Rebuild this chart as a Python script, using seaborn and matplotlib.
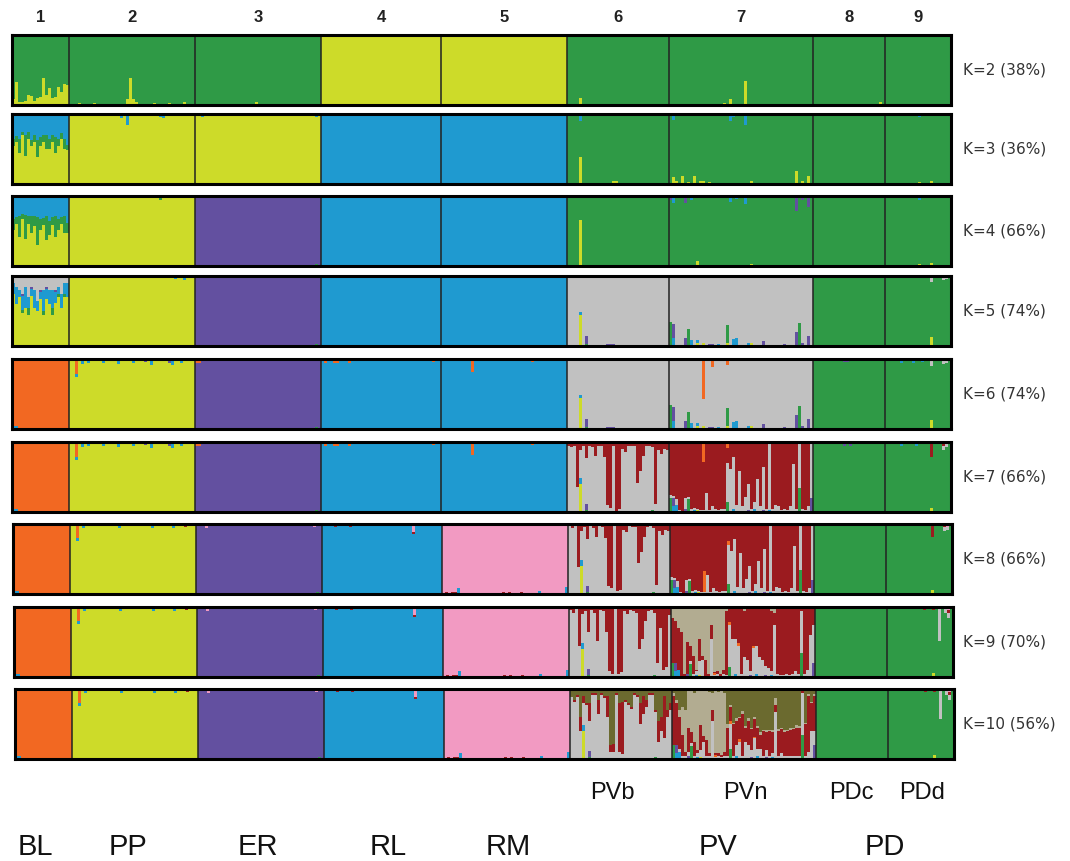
import numpy as np
import pandas as pd
import matplotlib
matplotlib.use("Agg")
import matplotlib.pyplot as plt
import seaborn as sns

# ---------------- data ----------------
POP_NUMBERS = ["1", "2", "3", "4", "5", "6", "7", "8", "9"]
POP_SIZES = [19, 42, 42, 40, 42, 34, 48, 24, 22]
K_VALUES = [2, 3, 4, 5, 6, 7, 8, 9, 10]
K_SUPPORT = [38, 36, 66, 74, 74, 66, 66, 70, 56]
SUB_LABELS = ["PVb", "PVn", "PDc", "PDd"]
GROUP_LABELS = ["BL", "PP", "ER", "RL", "RM", "PV", "PD"]

COLORS = {"green": "#2f9a46", "yellow": "#cddb29", "blue": "#1f9ad0",
          "purple": "#6350a0", "gray": "#c1c1c1", "orange": "#f26822",
          "red": "#9b1b1f", "pink": "#f29ac2", "khaki": "#b2ac91",
          "olive": "#6b6a2f"}

STACK_ORDER = {
    2: ["yellow", "green"],
    3: ["yellow", "green", "blue"],
    4: ["yellow", "green", "blue", "purple"],
    5: ["yellow", "green", "blue", "purple", "gray"],
    6: ["yellow", "green", "blue", "purple", "gray", "orange"],
    7: ["yellow", "green", "blue", "purple", "gray", "red", "orange"],
    8: ["yellow", "green", "blue", "purple", "gray", "orange", "red", "pink"],
    9: ["yellow", "green", "blue", "purple", "gray", "orange", "red", "pink", "khaki"],
    10: ["yellow", "green", "blue", "purple", "gray", "orange", "red", "pink", "khaki", "olive"],
}

DOMINANT = {
    2: ["green", "green", "green", "yellow", "yellow", "green", "green", "green", "green"],
    3: ["yellow", "yellow", "yellow", "blue", "blue", "green", "green", "green", "green"],
    4: ["yellow", "yellow", "purple", "blue", "blue", "green", "green", "green", "green"],
    5: ["yellow", "yellow", "purple", "blue", "blue", "gray", "gray", "green", "green"],
    6: ["orange", "yellow", "purple", "blue", "blue", "gray", "gray", "green", "green"],
    7: ["orange", "yellow", "purple", "blue", "blue", "gray", "red", "green", "green"],
    8: ["orange", "yellow", "purple", "blue", "pink", "gray", "red", "green", "green"],
    9: ["orange", "yellow", "purple", "blue", "pink", "gray", "red", "green", "green"],
    10: ["orange", "yellow", "purple", "blue", "pink", "gray", "olive", "green", "green"],
}

# thin membership line along the top of every bar (percent)
TRACE = {6: ("orange", 2), 7: ("orange", 2)}

# per-individual membership (percent) of admixed groups
BL_K2_YELLOW = [8, 33, 5, 4, 6, 14, 13, 6, 10, 12, 39, 15, 25, 10, 12, 26, 18, 30, 28]
BL_K3_GREEN = [10, 8, 20, 5, 30, 10, 8, 10, 25, 12, 10, 20, 15, 10, 22, 10, 8, 15, 8]
BL_K3_BLUE = [35, 32, 35, 25, 30, 25, 37, 30, 37, 33, 30, 30, 35, 30, 33, 35, 27, 35, 44]
BL_K4_GREEN = [15, 10, 30, 8, 35, 12, 25, 15, 40, 15, 10, 35, 20, 12, 30, 15, 10, 25, 15]
BL_K4_BLUE = [33, 28, 28, 25, 27, 25, 28, 28, 28, 33, 32, 28, 33, 30, 28, 33, 28, 28, 38]
BL_K5_GREEN = [0, 0, 0, 5, 0, 10, 0, 0, 0, 0, 5, 0, 0, 10, 0, 5, 0, 5, 0]
BL_K5_BLUE = [15, 25, 10, 20, 30, 15, 10, 25, 15, 10, 30, 15, 20, 25, 15, 10, 20, 15, 20]
BL_K5_GRAY = [10, 15, 20, 25, 15, 30, 15, 20, 35, 20, 20, 15, 20, 20, 20, 15, 25, 10, 10]

PVB_RED = [3, 5, 3, 62, 10, 4, 21, 3, 5, 18, 3, 4, 20, 88, 92, 3, 96, 94, 8, 12,
           3, 4, 4, 56, 40, 18, 4, 3, 5, 87, 10, 15, 8, 10]
PVB_RED_K9 = [4, 8, 3, 55, 10, 5, 35, 4, 8, 48, 4, 6, 35, 92, 95, 3, 95, 93, 6, 10,
              4, 5, 8, 60, 45, 20, 6, 4, 8, 80, 30, 90, 85, 12]
PVB_RED_K10 = [0, 3, 3, 20, 10, 3, 25, 3, 3, 20, 3, 3, 30, 10, 12, 3, 70, 75, 3, 3,
               3, 3, 3, 30, 25, 10, 3, 3, 3, 30, 20, 60, 10, 10]
PVB_OLIVE_K10 = [12, 15, 8, 40, 10, 20, 20, 5, 5, 15, 5, 10, 10, 80, 78, 5, 20, 18, 15, 20,
                 25, 5, 8, 20, 10, 15, 5, 5, 30, 45, 40, 10, 30, 20]

PVN_GRAY = [5, 3, 8, 3, 2, 15, 3, 5, 3, 2, 3, 3, 27, 3, 8, 5, 3, 4, 5, 55, 62, 74, 10, 59,
            8, 22, 37, 5, 10, 47, 8, 62, 5, 95, 5, 10, 8, 3, 5, 3, 8, 69, 5, 64, 4, 3, 8, 78]
PVN_GRAY_K9 = [0, 0, 0, 0, 0, 0, 5, 5, 5, 20, 25, 0, 0, 55, 3, 5, 0, 5, 3, 59, 55, 49, 45, 5,
               28, 25, 5, 42, 40, 28, 25, 13, 13, 5, 74, 5, 3, 3, 5, 3, 5, 8, 5, 60, 5, 10, 60, 55]
PVN_KHAKI_K9 = [15, 20, 30, 35, 95, 50, 55, 70, 90, 45, 70, 75, 95, 25, 93, 92, 95, 90, 5, 3,
                3, 3, 2, 3, 5, 3, 2, 3, 3, 2, 3, 2, 3, 5, 8, 3, 2, 3, 2, 2, 3, 3, 3, 2, 3, 3, 3, 2]
PVN_KHAKI_K10 = [5, 5, 10, 40, 60, 55, 60, 70, 85, 50, 65, 70, 88, 25, 90, 88, 92, 85, 5, 3,
                 2, 3, 2, 3, 2, 3, 2, 3, 2, 3, 2, 3, 2, 3, 10, 3, 2, 3, 2, 3, 2, 3, 2, 3, 2, 3, 2, 3]
PVN_RED_K10 = [70, 60, 45, 30, 5, 35, 15, 20, 5, 35, 8, 22, 3, 15, 3, 3, 3, 5, 40, 20,
               45, 35, 30, 60, 20, 35, 30, 25, 30, 20, 35, 25, 35, 30, 10, 35, 35, 33, 35, 36,
               38, 40, 40, 3, 45, 80, 40, 50]
PVN_GRAY_K10 = [0, 0, 5, 5, 5, 5, 5, 5, 5, 10, 25, 5, 5, 55, 3, 5, 3, 5, 5, 35,
                5, 15, 25, 5, 25, 20, 10, 30, 10, 15, 5, 10, 5, 5, 67, 5, 8, 5, 5, 5,
                5, 5, 5, 60, 5, 10, 40, 20]

K6UP = (6, 7, 8, 9, 10)
K8UP = (8, 9, 10)
K7UP = (7, 8, 9, 10)

# (K values, population index, cluster, values as full list or {individual: percent})
ADMIX = [
    # 1 BL
    ((2,), 0, "yellow", BL_K2_YELLOW),
    ((3,), 0, "green", BL_K3_GREEN), ((3,), 0, "blue", BL_K3_BLUE),
    ((4,), 0, "green", BL_K4_GREEN), ((4,), 0, "blue", BL_K4_BLUE),
    ((4,), 0, "purple", {1: 2, 5: 3, 8: 2, 12: 3, 16: 2}),
    ((5,), 0, "green", BL_K5_GREEN), ((5,), 0, "blue", BL_K5_BLUE),
    ((5,), 0, "purple", {3: 3, 6: 3, 9: 3, 11: 3, 14: 3}),
    ((5,), 0, "gray", BL_K5_GRAY),
    (K6UP, 0, "blue", {0: 4, 1: 3, 17: 2}), (K6UP, 0, "green", {1: 2, 2: 2}),
    # 2 PP
    ((2,), 1, "yellow", {3: 3, 8: 3, 19: 8, 20: 38, 21: 8, 22: 5, 28: 3, 33: 3, 38: 4}),
    ((3,), 1, "blue", {0: 3, 5: 3, 10: 2, 17: 5, 18: 3, 19: 15, 30: 4, 31: 6, 38: 3}),
    ((4,), 1, "blue", {1: 2, 3: 2, 6: 2, 30: 3, 36: 2, 41: 3}),
    ((4,), 1, "green", {30: 2, 40: 2}),
    ((5,), 1, "blue", {1: 3, 4: 2, 6: 2, 30: 3, 35: 4, 38: 5, 41: 3}),
    ((5,), 1, "purple", {31: 2, 36: 2}),
    (K6UP, 1, "orange", {2: 20}),
    (K6UP, 1, "blue", {2: 4, 4: 5, 6: 3, 11: 3, 16: 5, 21: 3, 27: 6, 34: 6, 37: 3}),
    ((6, 7), 1, "purple", {25: 2, 33: 3}),
    (K8UP, 1, "red", {15: 3, 24: 3, 38: 4}),
    # 3 ER
    ((2,), 2, "yellow", {20: 5, 21: 2, 30: 2, 34: 2}),
    ((3,), 2, "blue", {2: 4, 14: 2, 40: 4}),
    ((4, 5, 6, 7, 8, 9, 10), 2, "green", {3: 2, 40: 3}),
    ((4, 5, 6, 7, 8, 9, 10), 2, "blue", {4: 2, 39: 2}),
    (K6UP, 2, "orange", {0: 3, 1: 3}),
    (K8UP, 2, "pink", {3: 5, 39: 4}),
    # 4 RL
    ((2,), 3, "green", {3: 3, 7: 3, 20: 2}),
    ((3, 4, 5, 6, 7, 8, 9, 10), 3, "green", {13: 2, 14: 2, 15: 2}),
    ((6, 7), 3, "orange", {1: 3, 4: 4, 5: 3, 9: 4, 37: 2}),
    (K8UP, 3, "red", {1: 3, 4: 4, 5: 3, 9: 4, 30: 2, 37: 2}),
    (K8UP, 3, "pink", {30: 12, 6: 3}),
    # 5 RM
    ((2,), 4, "green", {5: 2}),
    ((6, 7), 4, "orange", {10: 16, 30: 2}),
    (K8UP, 4, "red", {1: 3, 3: 3, 4: 3, 20: 3, 22: 3, 26: 3, 30: 2, 34: 2}),
    (K8UP, 4, "blue", {5: 8, 32: 5, 41: 10}),
    # 6 PVb
    ((2,), 5, "yellow", {4: 10, 17: 2}),
    ((3,), 5, "yellow", {4: 38, 15: 4, 16: 5}),
    ((3,), 5, "blue", {4: 10, 0: 2}),
    ((4,), 5, "yellow", {4: 66, 15: 2}),
    ((4,), 5, "blue", {4: 3, 13: 2}),
    ((4,), 5, "purple", {0: 2, 14: 3, 15: 2}),
    ((5, 6), 5, "yellow", {4: 45}),
    ((5, 6), 5, "blue", {4: 3}),
    ((5, 6), 5, "purple", {6: 12, 9: 2, 13: 3, 14: 3, 15: 3, 20: 2, 22: 2, 25: 2, 26: 2, 27: 2}),
    ((5, 6), 5, "green", {6: 3, 24: 2}),
    (K7UP, 5, "yellow", {4: 40}),
    (K7UP, 5, "blue", {4: 8}),
    (K7UP, 5, "purple", {6: 8, 13: 2, 14: 2, 15: 2, 25: 2}),
    (K7UP, 5, "green", {6: 3, 28: 3}),
    ((7, 8), 5, "red", PVB_RED),
    ((9,), 5, "red", PVB_RED_K9),
    ((10,), 5, "red", PVB_RED_K10),
    ((10,), 5, "olive", PVB_OLIVE_K10),
    # 7 PVn
    ((2,), 6, "yellow", {7: 2, 18: 3, 20: 8, 25: 35, 27: 2, 31: 2, 35: 2}),
    ((3,), 6, "yellow", {1: 10, 2: 4, 4: 12, 6: 3, 8: 12, 10: 5, 11: 5, 13: 3, 15: 2,
                         19: 2, 27: 5, 39: 2, 42: 18, 44: 4, 46: 12}),
    ((3,), 6, "blue", {1: 8, 5: 3, 6: 3, 13: 2, 20: 10, 21: 4, 25: 15, 35: 2, 47: 2}),
    ((4,), 6, "yellow", {1: 2, 5: 2, 9: 7, 11: 2, 15: 2, 19: 2, 27: 3}),
    ((4,), 6, "blue", {1: 10, 7: 5, 20: 8, 22: 4, 25: 12}),
    ((4,), 6, "purple", {0: 6, 5: 10, 18: 2, 42: 22, 44: 6, 46: 16}),
    ((5, 6), 6, "green", {0: 35, 6: 25, 19: 25, 43: 33}),
    ((5, 6), 6, "purple", {1: 20, 5: 12, 13: 3, 14: 3, 17: 2, 31: 7, 36: 2, 38: 3,
                           40: 2, 42: 20, 44: 5, 46: 15}),
    ((5, 6), 6, "blue", {1: 12, 7: 8, 9: 3, 16: 3, 21: 10, 22: 12, 26: 5}),
    ((5, 6), 6, "yellow", {9: 5, 11: 4, 19: 5, 27: 5}),
    ((6,), 6, "orange", {11: 55, 14: 10, 19: 6}),
    ((7, 8), 6, "gray", PVN_GRAY),
    (K7UP, 6, "green", {0: 20, 6: 18, 19: 15, 43: 34}),
    (K7UP, 6, "purple", {1: 12, 5: 5, 26: 3, 31: 3, 47: 20}),
    (K7UP, 6, "blue", {1: 8, 2: 10, 8: 3, 21: 5, 28: 5, 33: 3}),
    (K7UP, 6, "yellow", {9: 3}),
    ((7,), 6, "orange", {11: 26, 19: 6}),
    ((8,), 6, "orange", {11: 30, 19: 6}),
    ((8,), 6, "pink", {7: 2, 18: 2, 20: 2, 31: 2}),
    ((9,), 6, "gray", PVN_GRAY_K9),
    ((9,), 6, "khaki", PVN_KHAKI_K9),
    ((9, 10), 6, "orange", {14: 3, 19: 4, 22: 3, 27: 2}),
    ((10,), 6, "gray", PVN_GRAY_K10),
    ((10,), 6, "khaki", PVN_KHAKI_K10),
    ((10,), 6, "red", PVN_RED_K10),
    # 8 PDc
    ((2,), 7, "yellow", {0: 2, 3: 2, 18: 2, 22: 4}),
    ((3, 4), 7, "blue", {21: 2}),
    ((5, 6), 7, "purple", {10: 2, 11: 2}),
    ((7,), 7, "purple", {10: 3, 12: 3}),
    (K8UP, 7, "pink", {9: 3, 11: 3, 14: 2}),
    (K8UP, 7, "red", {10: 3, 13: 2, 20: 2}),
    # 9 PDd
    ((2,), 8, "yellow", {4: 2, 5: 2, 11: 2}),
    ((3, 4), 8, "blue", {5: 2, 11: 4}),
    ((3, 4), 8, "yellow", {11: 3, 15: 4}),
    ((4,), 8, "purple", {11: 2}),
    ((5, 6), 8, "yellow", {15: 13, 20: 2}),
    (K7UP, 8, "yellow", {15: 6}),
    ((5, 6), 8, "gray", {15: 8, 19: 5, 20: 4}),
    ((5, 6), 8, "blue", {5: 3, 9: 3, 12: 2}),
    ((7,), 8, "red", {15: 20, 19: 4}),
    ((7,), 8, "gray", {19: 6, 20: 5}),
    ((8,), 8, "red", {15: 18, 19: 4}),
    ((8,), 8, "gray", {19: 6, 20: 5}),
    (K8UP, 8, "pink", {17: 3, 20: 4}),
    (K7UP, 8, "blue", {5: 3, 10: 3}),
    ((9,), 8, "gray", {17: 45, 19: 6, 20: 8}),
    ((10,), 8, "gray", {17: 40, 19: 6, 20: 8}),
    ((9, 10), 8, "red", {12: 4, 15: 4, 19: 3, 20: 4}),
]


def membership_table(K):
    order = STACK_ORDER[K]
    records = []
    start = 0
    for p, n in enumerate(POP_SIZES):
        dom = DOMINANT[K][p]
        q = {c: np.zeros(n) for c in order}
        for ks, pop, cl, vals in ADMIX:
            if K in ks and pop == p and cl in q:
                if isinstance(vals, dict):
                    for i, v in vals.items():
                        q[cl][i] += v
                else:
                    q[cl] += np.asarray(vals, float)
        if K in TRACE and dom != TRACE[K][0]:
            q[TRACE[K][0]] += TRACE[K][1]
        q[dom][:] = 0
        other = sum(q[c] for c in order)
        scale = np.where(other > 100, 100 / np.maximum(other, 1e-9), 1.0)
        for c in order:
            q[c] = q[c] * scale
        q[dom] = 100 - sum(q[c] for c in order)
        for c in order:
            for i in range(n):
                records.append((start + i, c, q[c][i] / 100.0))
        start += n
    return pd.DataFrame(records, columns=["ind", "cluster", "q"])


# ---------------- layout ----------------
FW, FH = 1070, 861
ROW_TOP = [35, 114, 196, 276, 359, 442, 524, 607, 689]
ROW_H = 70
ROW_SHIFT = [0, 0, 0, 0, 0, 0, 1, 2, 3]
X0 = 12
BW = 3.0
NTOT = sum(POP_SIZES)
bounds = np.cumsum([0] + POP_SIZES)

sns.set_theme(style="white")
plt.rcParams["font.family"] = ["Liberation Sans", "DejaVu Sans"]

fig = plt.figure(figsize=(FW / 100, FH / 100), dpi=100)

for r, K in enumerate(K_VALUES):
    left = (X0 + ROW_SHIFT[r]) / FW
    bottom = 1 - (ROW_TOP[r] + ROW_H) / FH
    ax = fig.add_axes([left, bottom, NTOT * BW / FW, ROW_H / FH])
    df = membership_table(K)
    order = STACK_ORDER[K]
    sns.histplot(data=df, x="ind", hue="cluster", weights="q", multiple="stack",
                 discrete=True, shrink=1.0, hue_order=order[::-1], palette=COLORS,
                 element="bars", linewidth=0, alpha=1, legend=False, ax=ax,
                 antialiased=False)
    ax.set_xlim(-0.5, NTOT - 0.5)
    ax.set_ylim(0, 1)
    ax.set_xticks([])
    ax.set_yticks([])
    ax.set_xlabel("")
    ax.set_ylabel("")
    for b in bounds[1:-1]:
        ax.axvline(b - 0.5, color="#222222", lw=1.1)
    for s in ax.spines.values():
        s.set_visible(True)
        s.set_color("black")
        s.set_linewidth(2.2)
    fig.text(963 / FW, 1 - (ROW_TOP[r] + ROW_H / 2) / FH,
             f"K={K} ({K_SUPPORT[r]}%)", ha="left", va="center",
             fontsize=11, color="#333333", family=["DejaVu Sans"])

# population numbers on top
for p, lab in enumerate(POP_NUMBERS):
    cx = X0 + (bounds[p] + bounds[p + 1]) / 2 * BW
    fig.text(cx / FW, 1 - 17 / FH, lab, ha="center", va="center",
             fontsize=12, fontweight="bold", color="#222222")

narrow = ["Liberation Sans Narrow", "Liberation Sans", "DejaVu Sans"]
for lab, x in zip(SUB_LABELS, [612, 745, 851, 922]):
    fig.text(x / FW, 1 - 793 / FH, lab, ha="center", va="center",
             fontsize=17, color="#111111", family=narrow)
for lab, x in zip(GROUP_LABELS, [35, 128, 258, 388, 508, 718, 885]):
    fig.text(x / FW, 1 - 847 / FH, lab, ha="center", va="center",
             fontsize=21, color="#111111", family=narrow)

fig.savefig("out.png", dpi=100)
